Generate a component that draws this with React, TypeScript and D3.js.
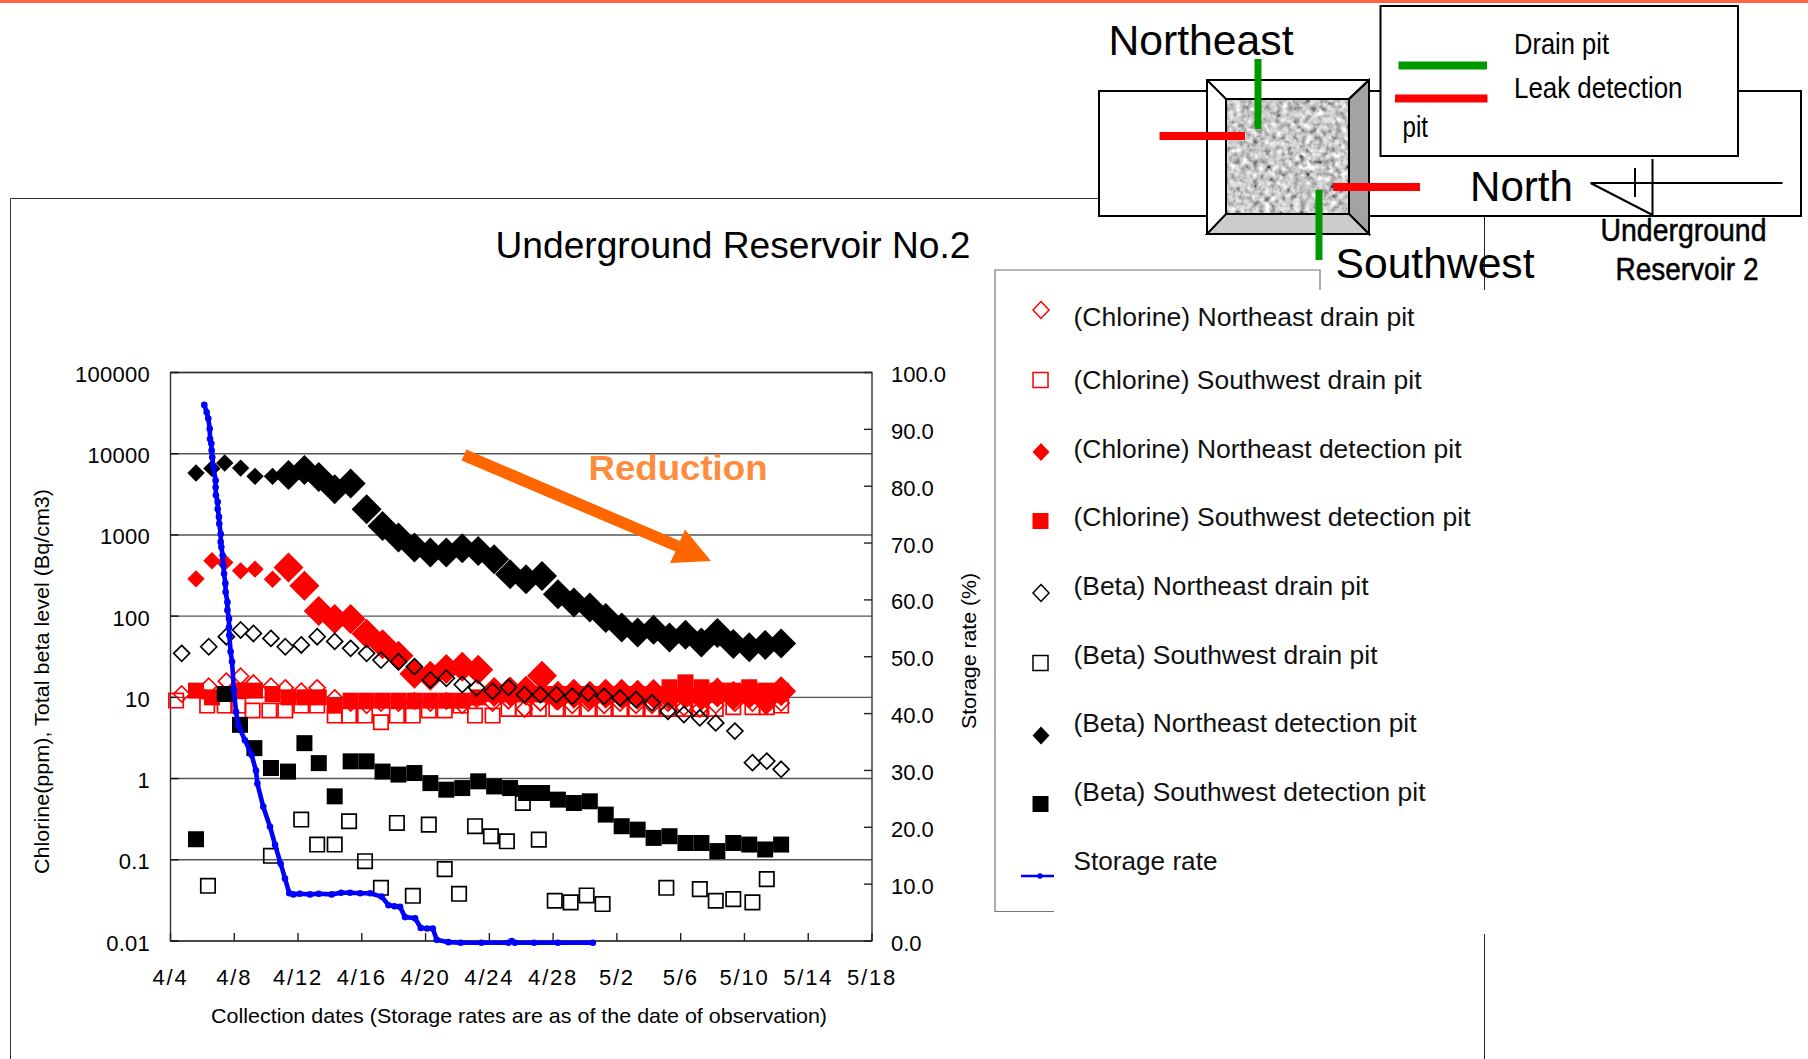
import React from "react";
import * as d3 from "d3";

const FONT = "'Liberation Sans', Arial, sans-serif";

// Days since 4/4
const detectionDays = [1.6,2.6,3.4,4.4,5.3,6.4,7.4,8.4,9.3,10.3,11.3,12.3,13.3,14.3,15.3,16.3,17.3,18.3,19.3,20.3,21.3,22.3,23.3,24.3,25.3,26.3,27.3,28.3,29.3,30.3,31.3,32.3,33.3,34.3,35.3,36.3,37.3,38.3];
const chlorineNEDetection = [288,480,457,361,379,285,398,236,116,92,92,60.7,45,32.6,19.5,18.5,22.4,23.9,21.9,11.6,11.8,12.1,18.5,10.5,11.1,10.5,11.1,11.1,10.8,11,10.5,11,10.5,11.5,10.5,11,9.5,11.9];
const chlorineSWDetection = [12.1,10,11,12.1,12.1,11,10,10,10,7.9,9.1,9.1,9.1,9.1,9.1,9.1,9.1,9.1,10,11,11,11,11,11,11,11,11,11,11,11,13.3,15.3,13.3,12.1,12.1,13.3,12.1,12.1];
const betaNEDetection = [5780,6590,7670,6650,5260,5260,5460,6290,5160,3640,4310,2070,1290,927,698,606,606,685,635,501,329,285,313,186,147,128,95,72.6,63,68,54.7,59,47.5,62,45.4,41.3,44.2,46.2];

const betaSWDetectionDays = [1.6,3.4,4.36,5.26,6.3,7.37,8.4,9.3,10.3,11.3,12.3,13.3,14.3,15.3,16.3,17.3,18.3,19.3,20.3,21.3,22.3,23.3,24.3,25.3,26.3,27.3,28.3,29.3,30.3,31.3,32.3,33.3,34.3,35.3,36.3,37.3,38.3];
const betaSWDetection = [0.179,11,4.59,2.37,1.35,1.22,2.73,1.55,0.604,1.63,1.63,1.22,1.12,1.17,0.88,0.73,0.764,0.925,0.8,0.764,0.664,0.664,0.55,0.5,0.525,0.36,0.259,0.235,0.186,0.195,0.161,0.161,0.128,0.161,0.154,0.134,0.154];

const chlorineNEDrainDays = [0.7,2.4,3.5,4.4,5.2,6.3,7.2,8.2,9.2,10.3,11.3,12.3,13.2,14.3,15.3,16.3,17.3,18.3,19.2,20.2,21.2,22.2,23.2,24.2,25.2,26.2,27.2,28.2,29.2,30.2,31.2,32.2,33.2,34.2,35.4,36.5,37.4,38.3];
const chlorineNEDrain = [11,13.7,15.8,18.2,15,13.7,13.1,11.9,13.1,9.84,8.5,8,8.5,8.5,9,8.5,9,8,9.5,8.5,9.1,7.2,8.6,9,8,8.5,8,8.5,8,8,8.5,7.5,7.2,8,8.5,8.5,8,8.5];

const chlorineSWDrainDays = [0.35,2.3,3.4,4.25,5.15,6.2,7.2,8.2,9.2,10.3,11.2,12.2,13.2,14.2,15.2,16.2,17.2,18.2,19.1,20.2,21.2,22.1,23.1,24.2,25.2,26.2,27.2,28.2,29.2,30.2,31.2,32.2,33.2,34.2,35.3,36.5,37.4,38.3];
const chlorineSWDrain = [9.14,7.93,7.93,7.93,6.89,6.89,6.89,7.93,7.93,5.97,5.97,5.97,4.94,5.97,5.97,6.89,6.89,7.93,5.97,5.97,7.2,7.2,7.2,7.2,7.2,7.2,7.2,7.2,7.2,7.2,7.2,7.2,7.2,7.2,7.55,7.55,7.55,7.93];

const betaNEDrainDays = [0.7,2.4,3.5,4.4,5.2,6.3,7.2,8.2,9.2,10.3,11.3,12.3,13.2,14.3,15.3,16.3,17.3,18.3,19.2,20.2,21.2,22.2,23.2,24.2,25.2,26.2,27.2,28.2,29.2,30.2,31.2,32.2,33.2,34.2,35.4,36.5,37.4,38.3];
const betaNEDrain = [34.8,42,55.8,67.5,61.2,53.2,42,44.2,55.8,48.9,40.1,34.8,28.8,27.5,23.9,16.4,17.2,14.4,13.1,11.9,13.3,10.8,10.8,10.8,10.3,11.3,10.3,9.84,9.4,8.56,6.75,6.15,5.6,4.85,3.84,1.57,1.64,1.3];

const betaSWDrainDays = [2.35,6.3,8.2,9.2,10.3,11.2,12.2,13.2,14.2,15.2,16.2,17.2,18.1,19.1,20.1,21.1,22.1,23.1,24.1,25.1,26.1,27.1,31.1,33.2,34.2,35.3,36.5,37.4];
const betaSWDrain = [0.0478,0.112,0.313,0.154,0.154,0.298,0.0961,0.0452,0.284,0.036,0.271,0.0767,0.0381,0.259,0.195,0.169,0.5,0.177,0.0313,0.0299,0.0364,0.0285,0.0452,0.0435,0.0313,0.0328,0.0299,0.0578];

const storageDays = [2.12,2.27,2.37,2.46,2.48,2.56,2.58,2.62,2.69,2.83,2.83,2.85,2.96,2.96,3.04,3.06,3.15,3.15,3.19,3.27,3.31,3.36,3.44,3.46,3.57,3.57,3.67,3.67,3.69,3.77,3.86,3.98,4.11,4.25,4.67,5.09,5.36,5.45,5.82,6.24,6.56,6.91,7.18,7.45,7.7,8.1,8.75,9.3,10.11,10.7,11.26,11.9,12.52,13.25,13.67,14.05,14.4,14.71,15.34,15.7,16.1,16.45,16.7,17.43,18.2,19.5,21.2,21.4,21.6,22.8,24.3,26.49];
const storageRate = [94.3,93,91.9,90.1,88.3,87.5,86.3,85.1,83.4,81,79.8,78.4,77.2,76,74.6,73.4,71.6,70.2,69.3,67.8,66.1,64.6,62.9,61.4,59.6,58.2,56.7,55.2,53.8,50.9,49.1,44.1,40.3,38,35.3,32.7,30,27.7,23.6,20.1,16.9,13.6,11,8.4,8.2,8.3,8.2,8.3,8.2,8.5,8.5,8.4,8.4,7.8,6.3,6.1,6,4.2,4,2.3,2.2,2.2,0.2,-0.2,-0.3,-0.3,-0.3,0,-0.3,-0.3,-0.3,-0.3];

const leftTicks = [100000,10000,1000,100,10,1,0.1,0.01];
const leftTickLabels = ["100000","10000","1000","100","10","1","0.1","0.01"];
const rightTicks = [100,90,80,70,60,50,40,30,20,10,0];
const dateTicks = [0,4,8,12,16,20,24,28,32,36,40,44];
const dateLabels = ["4/4","4/8","4/12","4/16","4/20","4/24","4/28","5/2","5/6","5/10","5/14","5/18"];
const legendLabels = ["(Chlorine) Northeast drain pit","(Chlorine) Southwest drain pit","(Chlorine) Northeast detection pit","(Chlorine) Southwest detection pit","(Beta) Northeast drain pit","(Beta) Southwest drain pit","(Beta) Northeast detection pit","(Beta) Southwest detection pit","Storage rate"];

const plot = { left: 170.5, right: 872, top: 372.5, bottom: 941 };
const x = d3.scaleLinear().domain([0, 44]).range([plot.left, plot.right]);
const y = d3.scaleLog().domain([0.01, 100000]).range([plot.bottom, plot.top]);
const yR = d3.scaleLinear().domain([0, 100]).range([plot.bottom, plot.top]);

const diamond = (cx: number, cy: number, r: number, ry = r) => `M${cx},${cy - ry}L${cx + r},${cy}L${cx},${cy + ry}L${cx - r},${cy}Z`;
const square = (cx: number, cy: number, r: number) => `M${cx - r},${cy - r}H${cx + r}V${cy + r}H${cx - r}Z`;
// filled diamonds were drawn larger from 4/10 onward
const filledR = (d: number) => (d > 6.8 ? 15 : 8.7);

function Series({ days, values, shape, color, filled, radius }: any) {
  return (
    <g>
      {values.map((v: number, i: number) => {
        const d = days[i];
        const r = typeof radius === "function" ? radius(d) : radius;
        return (
          <path key={i} d={shape(x(d), y(v), r)} fill={filled ? color : "none"} stroke={filled ? "none" : color} strokeWidth={filled ? 0 : 1.7} />
        );
      })}
    </g>
  );
}

function Txt({ x: tx, y: ty, w, size, children, anchor, fill, weight, heavy, spacing }: any) {
  return (
    <text x={tx} y={ty} fontSize={size} fontFamily={FONT} fill={fill ?? "#000"} fontWeight={weight} textAnchor={anchor}
      stroke={heavy ? "#000" : undefined} strokeWidth={heavy ? 0.5 : undefined} letterSpacing={spacing}
      {...(w ? { textLength: w, lengthAdjust: "spacingAndGlyphs" } : {})}>{children}</text>
  );
}

const legendRows = [
  { my: 310, ty: 325.5, w: 341 }, { my: 380, ty: 389, w: 348 }, { my: 452, ty: 458, w: 388 }, { my: 521, ty: 526, w: 397 },
  { my: 593, ty: 594.5, w: 295 }, { my: 663, ty: 664, w: 304 }, { my: 735.5, ty: 732, w: 343 }, { my: 804, ty: 801, w: 352 }, { my: 876, ty: 870, w: 144 },
];

export default function App() {
  const line = d3.line<number>().x((_, i) => x(storageDays[i])).y((v) => yR(v));
  return (
    <svg width={1808} height={1059} style={{ position: "absolute", left: 0, top: 0, background: "#fff" }}>
      <defs>
        <filter id="grain" x="0" y="0" width="100%" height="100%">
          <feTurbulence type="fractalNoise" baseFrequency="0.17" numOctaves="2" seed="7" />
          <feColorMatrix type="matrix" values="1.0 1.0 0 0 -0.42  1.0 1.0 0 0 -0.42  1.0 1.0 0 0 -0.42  0 0 0 0 1" />
        </filter>
      </defs>

      <rect x={0} y={0} width={1808} height={3} fill="#ff6640" />

      {/* outer frame of the slide's chart */}
      <path d="M10.5,1059V198.5H1099" fill="none" stroke="#333" strokeWidth={1} />
      <path d="M1484.5,216V290M1484.5,934V1059" fill="none" stroke="#222" strokeWidth={1} />

      {/* reservoir diagram */}
      <rect x={1099} y={91} width={702} height={125} fill="#fff" stroke="#000" strokeWidth={2} />
      <rect x={1207} y={80} width={162} height={154} fill="#fff" stroke="#000" strokeWidth={2} />
      <path d="M1349,99L1369,80V234L1349,214Z" fill="#a3a3a3" stroke="#000" strokeWidth={2} />
      <path d="M1226,214H1349L1369,234H1207Z" fill="#cccccc" stroke="#000" strokeWidth={2} />
      <path d="M1207,80L1226,99M1369,80L1349,99" stroke="#000" strokeWidth={2} />
      <rect x={1226} y={99} width={123} height={115} filter="url(#grain)" />
      <rect x={1226} y={99} width={123} height={115} fill="none" stroke="#000" strokeWidth={2} />
      <line x1={1258} x2={1258} y1={59} y2={129} stroke="#009900" strokeWidth={7} />
      <line x1={1159.5} x2={1245} y1={136} y2={136} stroke="#ff0000" strokeWidth={8} />
      <line x1={1333} x2={1420} y1={187} y2={187} stroke="#ff0000" strokeWidth={8} />
      <line x1={1319} x2={1319} y1={190} y2={260} stroke="#009900" strokeWidth={7} />

      <rect x={1380.5} y={6} width={357.5} height={150} fill="#fff" stroke="#000" strokeWidth={2} />
      <line x1={1398.5} x2={1487} y1={65.5} y2={65.5} stroke="#009900" strokeWidth={8} />
      <line x1={1395} x2={1487.5} y1={98.5} y2={98.5} stroke="#ff0000" strokeWidth={8} />
      <Txt x={1514} y={54} size={30} w={95}>Drain pit</Txt>
      <Txt x={1514} y={98} size={30} w={168.5}>Leak detection</Txt>
      <Txt x={1402.5} y={137} size={30} w={25.5}>pit</Txt>

      <Txt x={1108.5} y={55} size={42} w={185}>Northeast</Txt>
      <Txt x={1470} y={201} size={42} w={103}>North</Txt>
      <Txt x={1335.5} y={278} size={42} w={199}>Southwest</Txt>
      <Txt x={1600.5} y={241} size={31} w={166} heavy>Underground</Txt>
      <Txt x={1615.5} y={280} size={31} w={143} heavy>Reservoir 2</Txt>
      <path d="M1590.5,183H1782.5M1590.5,183L1652.5,215M1652.5,159V215M1635,168V197" fill="none" stroke="#000" strokeWidth={2} />

      {/* legend frame */}
      <path d="M1320,290V270H995V911.5H1054" fill="none" stroke="#777" strokeWidth={1.2} />
      {legendLabels.map((t, i) => (
        <Txt key={t} x={1073.5} y={legendRows[i].ty} size={26} w={legendRows[i].w} fill="#111">{t}</Txt>
      ))}
      <path d={diamond(1041, legendRows[0].my, 8, 8.5)} fill="none" stroke="#ff0000" strokeWidth={1.5} />
      <path d={square(1040.5, legendRows[1].my, 7.5)} fill="none" stroke="#ff0000" strokeWidth={1.5} />
      <path d={diamond(1041, legendRows[2].my, 8.5, 9)} fill="#ff0000" />
      <path d={square(1040.5, legendRows[3].my, 8)} fill="#ff0000" />
      <path d={diamond(1041, legendRows[4].my, 8, 8.5)} fill="none" stroke="#000" strokeWidth={1.5} />
      <path d={square(1040.5, legendRows[5].my, 7.5)} fill="none" stroke="#000" strokeWidth={1.5} />
      <path d={diamond(1041, legendRows[6].my, 8.5, 9)} fill="#000" />
      <path d={square(1040.5, legendRows[7].my, 8)} fill="#000" />
      <line x1={1021} x2={1054} y1={legendRows[8].my} y2={legendRows[8].my} stroke="#0000ff" strokeWidth={2.5} />
      <circle cx={1040} cy={legendRows[8].my} r={2.8} fill="#0000ff" />

      {/* title */}
      <Txt x={495.5} y={258} size={37} w={475}>Underground Reservoir No.2</Txt>

      {/* grid + plot frame */}
      {leftTicks.map((t) => (
        <line key={t} x1={plot.left} x2={plot.right} y1={y(t)} y2={y(t)} stroke="#555" strokeWidth={1.4} />
      ))}
      <rect x={plot.left} y={plot.top} width={plot.right - plot.left} height={plot.bottom - plot.top} fill="none" stroke="#333" strokeWidth={1.4} />
      {leftTicks.map((t) => (
        <line key={t} x1={plot.left} x2={plot.left + 8} y1={y(t)} y2={y(t)} stroke="#111" strokeWidth={1.4} />
      ))}
      {rightTicks.map((t) => (
        <line key={t} x1={plot.right - 8} x2={plot.right} y1={yR(t)} y2={yR(t)} stroke="#222" strokeWidth={1.4} />
      ))}
      {dateTicks.map((t) => (
        <line key={t} x1={x(t)} x2={x(t)} y1={plot.bottom - 8} y2={plot.bottom} stroke="#222" strokeWidth={1.4} />
      ))}

      {/* labels */}
      {leftTicks.map((t, i) => (
        <Txt key={t} x={150} y={y(t) + 9.5} size={22} anchor="end" spacing={0.25}>{leftTickLabels[i]}</Txt>
      ))}
      {rightTicks.map((t) => (
        <Txt key={t} x={891} y={yR(t) + 9.5} size={22}>{t.toFixed(1)}</Txt>
      ))}
      {dateTicks.map((t, i) => (
        <Txt key={t} x={x(t)} y={985} size={22} anchor="middle" spacing={1.8}>{dateLabels[i]}</Txt>
      ))}
      <Txt x={211} y={1023} size={21} w={616}>Collection dates (Storage rates are as of the date of observation)</Txt>
      <g transform="translate(49,681.5) rotate(-90)">
        <Txt x={-192.5} y={0} size={21} w={385}>Chlorine(ppm), Total beta level (Bq/cm3)</Txt>
      </g>
      <g transform="translate(976,651) rotate(-90)">
        <Txt x={-78} y={0} size={21} w={156}>Storage rate (%)</Txt>
      </g>

      {/* series, in the chart's drawing order */}
      <Series days={chlorineNEDrainDays} values={chlorineNEDrain} shape={diamond} color="#ff0000" radius={8} />
      <Series days={chlorineSWDrainDays} values={chlorineSWDrain} shape={square} color="#ff0000" radius={7.2} />
      <Series days={detectionDays} values={chlorineNEDetection} shape={diamond} color="#ff0000" filled radius={filledR} />
      <Series days={detectionDays} values={chlorineSWDetection} shape={square} color="#ff0000" filled radius={8} />
      <Series days={betaNEDrainDays} values={betaNEDrain} shape={diamond} color="#000" radius={8} />
      <Series days={betaSWDrainDays} values={betaSWDrain} shape={square} color="#000" radius={7.2} />
      <Series days={detectionDays} values={betaNEDetection} shape={diamond} color="#000" filled radius={filledR} />
      <Series days={betaSWDetectionDays} values={betaSWDetection} shape={square} color="#000" filled radius={8} />

      <path d={line(storageRate) ?? ""} fill="none" stroke="#0000ff" strokeWidth={4.6} />
      {storageRate.map((v, i) => (
        <circle key={i} cx={x(storageDays[i])} cy={yR(v)} r={3.3} fill="#0000ff" />
      ))}

      {/* reduction arrow */}
      <path d="M466.5,449.5L680,541L685,529.5L711,561L670,563L675.5,551.5L461.5,460.5Z" fill="#ff6600" />
      <Txt x={588.5} y={480} size={35} w={179} fill="#ff8c3c" weight="bold">Reduction</Txt>
    </svg>
  );
}
